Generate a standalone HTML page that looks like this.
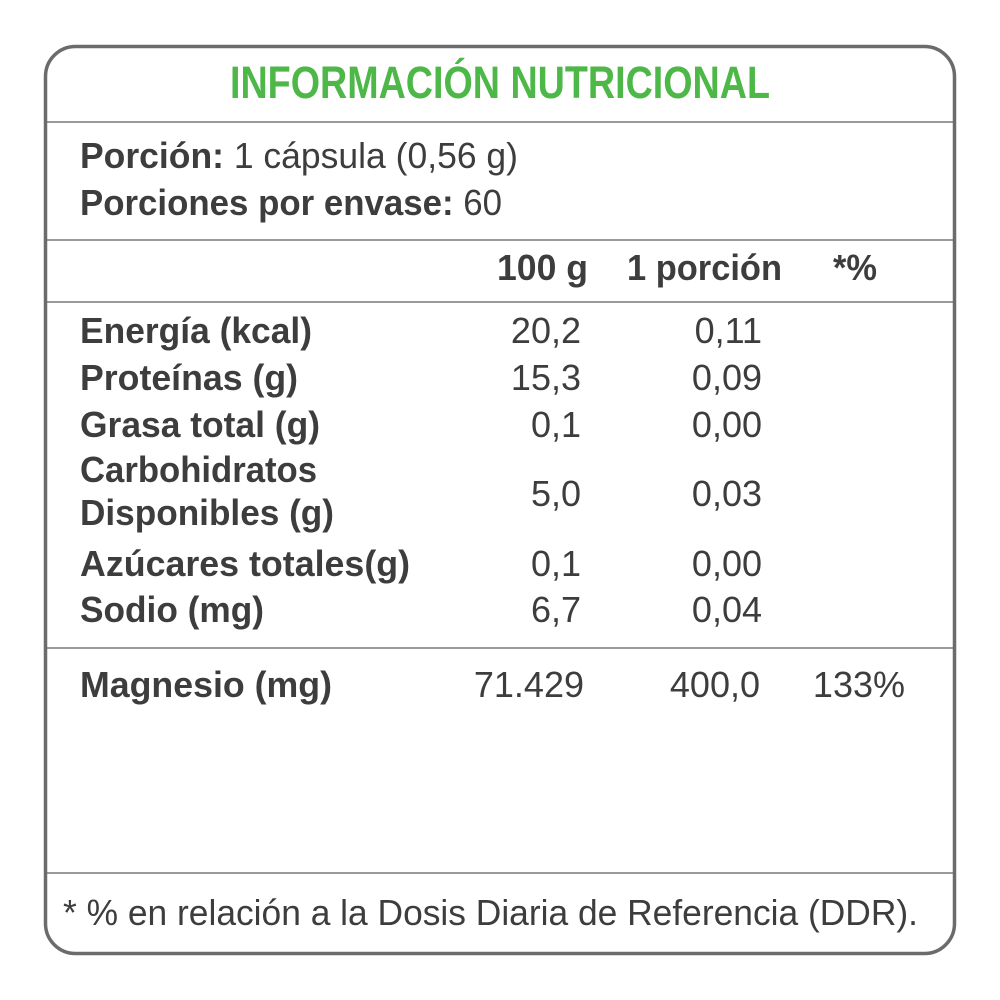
<!DOCTYPE html>
<html><head><meta charset="utf-8"><style>
html,body{margin:0;padding:0;background:#fff;}
svg{display:block;}
text{font-family:"Liberation Sans",sans-serif;fill:#3d3d3d;}
.b{font-weight:bold;}
</style></head><body>
<svg width="1000" height="1000" viewBox="0 0 1000 1000">
<rect x="0" y="0" width="1000" height="1000" fill="#fff"/>
<g stroke="#9a9a9a" stroke-width="2">
<line x1="46" y1="122" x2="954" y2="122"/>
<line x1="46" y1="240" x2="954" y2="240"/>
<line x1="46" y1="302" x2="954" y2="302"/>
<line x1="46" y1="648" x2="954" y2="648"/>
<line x1="46" y1="873" x2="954" y2="873"/>
</g>
<rect x="45.5" y="46.5" width="909" height="907" rx="30" ry="30" fill="none" stroke="#6b6b6b" stroke-width="3.5"/>
<text class="b" x="230" y="98" font-size="45" textLength="540" lengthAdjust="spacingAndGlyphs" style="fill:#4db848">INFORMACIÓN NUTRICIONAL</text>
<text x="80" y="168" font-size="36" textLength="438" lengthAdjust="spacingAndGlyphs"><tspan class="b">Porción:</tspan> 1 cápsula (0,56 g)</text>
<text x="80" y="215" font-size="36" textLength="422" lengthAdjust="spacingAndGlyphs"><tspan class="b">Porciones por envase:</tspan> 60</text>
<text class="b" x="497" y="280" font-size="36" textLength="91" lengthAdjust="spacingAndGlyphs">100 g</text>
<text class="b" x="627" y="280" font-size="36" textLength="155" lengthAdjust="spacingAndGlyphs">1 porción</text>
<text class="b" x="833" y="280" font-size="36" textLength="44" lengthAdjust="spacingAndGlyphs">*%</text>
<g font-size="36">
<text class="b" x="80" y="343" textLength="232" lengthAdjust="spacingAndGlyphs">Energía (kcal)</text>
<text class="b" x="80" y="390" textLength="218" lengthAdjust="spacingAndGlyphs">Proteínas (g)</text>
<text class="b" x="80" y="437" textLength="240" lengthAdjust="spacingAndGlyphs">Grasa total (g)</text>
<text class="b" x="80" y="482" textLength="237" lengthAdjust="spacingAndGlyphs">Carbohidratos</text>
<text class="b" x="80" y="525" textLength="254" lengthAdjust="spacingAndGlyphs">Disponibles (g)</text>
<text class="b" x="80" y="576" textLength="330" lengthAdjust="spacingAndGlyphs">Azúcares totales(g)</text>
<text class="b" x="80" y="622" textLength="184" lengthAdjust="spacingAndGlyphs">Sodio (mg)</text>
<text class="b" x="80" y="697" textLength="252" lengthAdjust="spacingAndGlyphs">Magnesio (mg)</text>
<g text-anchor="end">
<text x="581" y="343">20,2</text>
<text x="581" y="390">15,3</text>
<text x="581" y="437">0,1</text>
<text x="581" y="506">5,0</text>
<text x="581" y="576">0,1</text>
<text x="581" y="622">6,7</text>
<text x="584" y="697">71.429</text>
<text x="762" y="343">0,11</text>
<text x="762" y="390">0,09</text>
<text x="762" y="437">0,00</text>
<text x="762" y="506">0,03</text>
<text x="762" y="576">0,00</text>
<text x="762" y="622">0,04</text>
<text x="760" y="697">400,0</text>
<text x="905" y="697">133%</text>
</g>
</g>
<text x="63" y="925" font-size="36" textLength="855" lengthAdjust="spacingAndGlyphs">* % en relación a la Dosis Diaria de Referencia (DDR).</text>
</svg>
</body></html>
